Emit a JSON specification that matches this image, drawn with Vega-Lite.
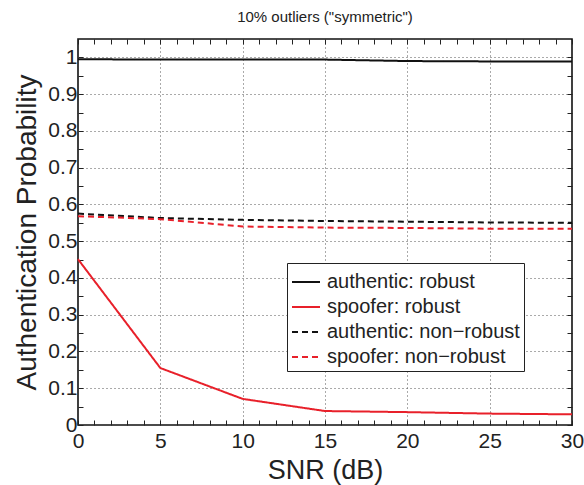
{
  "$schema": "https://vega.github.io/schema/vega-lite/v6.json",
  "width": 494,
  "height": 386,
  "autosize": {"type": "none"},
  "padding": {"left": 78, "top": 39, "right": 12, "bottom": 60},
  "background": "white",
  "config": {
    "font": "Liberation Sans",
    "view": {"stroke": "#111", "strokeWidth": 1.6}
  },
  "title": {"text": "10% outliers (\"symmetric\")", "fontSize": 15, "fontWeight": "normal", "color": "#222", "offset": 14, "anchor": "middle"},
  "data": {"values": [
    {"snr": 0, "p": 0.995, "series": "authentic: robust"},
    {"snr": 5, "p": 0.994, "series": "authentic: robust"},
    {"snr": 10, "p": 0.994, "series": "authentic: robust"},
    {"snr": 15, "p": 0.994, "series": "authentic: robust"},
    {"snr": 20, "p": 0.990, "series": "authentic: robust"},
    {"snr": 25, "p": 0.989, "series": "authentic: robust"},
    {"snr": 30, "p": 0.989, "series": "authentic: robust"},
    {"snr": 0, "p": 0.451, "series": "spoofer: robust"},
    {"snr": 5, "p": 0.155, "series": "spoofer: robust"},
    {"snr": 10, "p": 0.071, "series": "spoofer: robust"},
    {"snr": 15, "p": 0.038, "series": "spoofer: robust"},
    {"snr": 20, "p": 0.035, "series": "spoofer: robust"},
    {"snr": 25, "p": 0.031, "series": "spoofer: robust"},
    {"snr": 30, "p": 0.029, "series": "spoofer: robust"},
    {"snr": 0, "p": 0.575, "series": "authentic: non−robust"},
    {"snr": 5, "p": 0.563, "series": "authentic: non−robust"},
    {"snr": 10, "p": 0.558, "series": "authentic: non−robust"},
    {"snr": 15, "p": 0.555, "series": "authentic: non−robust"},
    {"snr": 20, "p": 0.553, "series": "authentic: non−robust"},
    {"snr": 25, "p": 0.551, "series": "authentic: non−robust"},
    {"snr": 30, "p": 0.550, "series": "authentic: non−robust"},
    {"snr": 0, "p": 0.568, "series": "spoofer: non−robust"},
    {"snr": 5, "p": 0.560, "series": "spoofer: non−robust"},
    {"snr": 10, "p": 0.540, "series": "spoofer: non−robust"},
    {"snr": 15, "p": 0.537, "series": "spoofer: non−robust"},
    {"snr": 20, "p": 0.536, "series": "spoofer: non−robust"},
    {"snr": 25, "p": 0.534, "series": "spoofer: non−robust"},
    {"snr": 30, "p": 0.534, "series": "spoofer: non−robust"}
  ]},
  "layer": [
    {
      "mark": {"type": "line", "strokeWidth": 2},
      "encoding": {
        "x": {"field": "snr", "type": "quantitative", "scale": {"domain": [0, 30], "nice": false},
          "axis": {"title": "SNR (dB)", "titleFontSize": 27, "titleFontWeight": "normal", "titleColor": "#222", "titlePadding": 6,
            "values": [0,1,2,3,4,5,6,7,8,9,10,11,12,13,14,15,16,17,18,19,20,21,22,23,24,25,26,27,28,29,30],
            "labelExpr": "datum.value % 5 === 0 ? format(datum.value, '~g') : ''", "labelOverlap": false, "labelFontSize": 21, "labelColor": "#222", "labelPadding": 10, "labelFlush": false,
            "tickSize": -5, "tickColor": "#222", "domain": false,
            "grid": true, "gridDash": [1, 3], "gridColor": "#555", "gridOpacity": {"expr": "datum.value % 5 === 0 && datum.value > 0 && datum.value < 30 ? 1 : 0"}}},
        "y": {"field": "p", "type": "quantitative", "scale": {"domain": [0, 1.05], "nice": false},
          "axis": {"title": "Authentication Probability", "titleFontSize": 28, "titleFontWeight": "normal", "titleColor": "#222", "titlePadding": 6,
            "values": [0,0.05,0.1,0.15,0.2,0.25,0.3,0.35,0.4,0.45,0.5,0.55,0.6,0.65,0.7,0.75,0.8,0.85,0.9,0.95,1.0],
            "labelExpr": "round(datum.value*100) % 10 === 0 ? format(datum.value, '~g') : ''", "labelOverlap": false, "labelFontSize": 21, "labelColor": "#222", "labelPadding": 6, "labelFlush": false,
            "tickSize": -5, "tickColor": "#222", "domain": false,
            "grid": true, "gridDash": [1, 3], "gridColor": "#555", "gridOpacity": {"expr": "round(datum.value*100) % 10 === 0 && datum.value > 0 ? 1 : 0"}}},
        "color": {"field": "series", "type": "nominal",
          "scale": {"domain": ["authentic: robust", "spoofer: robust", "authentic: non−robust", "spoofer: non−robust"], "range": ["#111111", "#e8202a", "#111111", "#e8202a"]},
          "legend": {"title": null, "orient": "none", "legendX": 209, "legendY": 224, "fillColor": "white", "strokeColor": "#222", "padding": 4,
            "labelFontSize": 20, "labelColor": "#222", "labelLimit": 300, "symbolType": "stroke", "symbolSize": 784, "symbolStrokeWidth": 2, "rowPadding": 0, "labelOffset": 6}},
        "strokeDash": {"field": "series", "type": "nominal",
          "scale": {"domain": ["authentic: robust", "spoofer: robust", "authentic: non−robust", "spoofer: non−robust"], "range": [[1, 0], [1, 0], [6, 4], [6, 4]]},
          "legend": {"title": null, "orient": "none", "legendX": 209, "legendY": 224, "fillColor": "white", "strokeColor": "#222", "padding": 4,
            "labelFontSize": 20, "labelColor": "#222", "labelLimit": 300, "symbolType": "stroke", "symbolSize": 784, "symbolStrokeWidth": 2, "rowPadding": 0, "labelOffset": 6}}
      }
    },
    {
      "mark": {"type": "line", "opacity": 0},
      "encoding": {
        "x": {"field": "snr", "type": "quantitative",
          "axis": {"orient": "top", "title": null, "labels": false, "domain": false, "grid": false,
            "values": [0,1,2,3,4,5,6,7,8,9,10,11,12,13,14,15,16,17,18,19,20,21,22,23,24,25,26,27,28,29,30], "tickSize": -5, "tickColor": "#222"}},
        "y": {"field": "p", "type": "quantitative",
          "axis": {"orient": "right", "title": null, "labels": false, "domain": false, "grid": false,
            "values": [0,0.05,0.1,0.15,0.2,0.25,0.3,0.35,0.4,0.45,0.5,0.55,0.6,0.65,0.7,0.75,0.8,0.85,0.9,0.95,1.0], "tickSize": -5, "tickColor": "#222"}},
        "detail": {"field": "series"}
      }
    }
  ],
  "resolve": {"axis": {"x": "independent", "y": "independent"}}
}
